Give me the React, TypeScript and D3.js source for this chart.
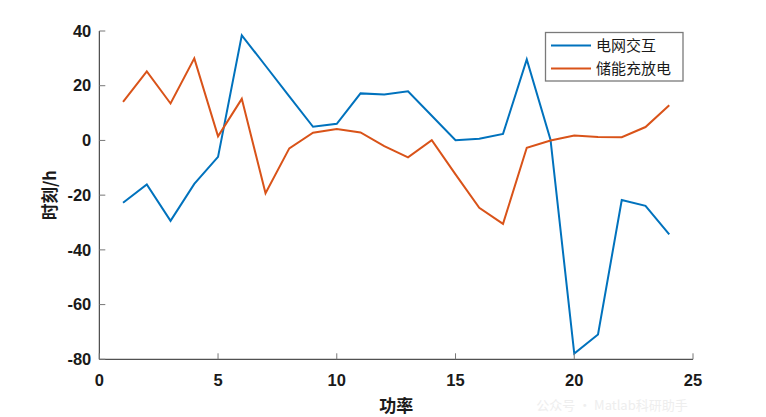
import React from "react";
import * as d3 from "d3";

const hours = [1, 2, 3, 4, 5, 6, 7, 8, 9, 10, 11, 12, 13, 14, 15, 16, 17, 18, 19, 20, 21, 22, 23, 24];
const gridExchange = [-22.8, -16.1, -29.4, -15.9, -6.0, 38.4, 27.3, 16.1, 5.0, 6.1, 17.2, 16.8, 18.0, 9.0, 0.1, 0.6, 2.4, 29.6, 0.3, -77.9, -70.9, -21.8, -23.9, -34.3];
const storage = [14.1, 25.2, 13.5, 30.0, 1.5, 15.2, -19.3, -2.9, 2.8, 4.2, 2.9, -2.1, -6.2, 0.1, -12.4, -24.6, -30.5, -2.7, 0.0, 1.8, 1.3, 1.2, 4.9, 12.9];
const seriesNames = ["电网交互", "储能充放电"];
const seriesColors = ["#0072BD", "#D95319"];
const xTicks = [0, 5, 10, 15, 20, 25];
const yTicks = [40, 20, 0, -20, -40, -60, -80];
const xLabel = "功率";
const yLabel = "时刻/h";
const watermark = "公众号 · Matlab科研助手";

export default function App() {
  const W = 766, H = 417;
  const left = 99.3, right = 693, top = 31, bottom = 359.3;
  const x = d3.scaleLinear().domain([0, 25]).range([left, right]);
  const y = d3.scaleLinear().domain([-80, 40]).range([bottom, top]);
  const line = d3.line<[number, number]>().x(d => x(d[0])).y(d => y(d[1]));
  const data = [gridExchange, storage];
  const tickFont = "'Liberation Sans', Arial, sans-serif";
  const cjk = "'Noto Sans CJK SC', sans-serif";
  const axisColor = "#262626";
  const tickColor = "#777";

  return (
    <svg width={W} height={H} style={{ position: "absolute", left: 0, top: 0, background: "#fff" }}>
      <rect x={0} y={0} width={W} height={H} fill="#fff" />
      {/* watermark */}
      <text x={612} y={410} textAnchor="middle" fontFamily={cjk} fontSize={13} fill="#eeeeee">{watermark}</text>
      {/* series */}
      {data.map((vals, i) => (
        <path key={i} d={line(hours.map((h, j) => [h, vals[j]] as [number, number])) || ""}
          fill="none" stroke={seriesColors[i]} strokeWidth={2} strokeLinejoin="miter" />
      ))}
      {/* axes */}
      <line x1={left} x2={right} y1={bottom} y2={bottom} stroke={axisColor} strokeWidth={1} />
      <line x1={left} x2={left} y1={top} y2={bottom} stroke={axisColor} strokeWidth={1} />
      {xTicks.map(t => (
        <g key={"x" + t}>
          <line x1={x(t)} x2={x(t)} y1={bottom} y2={bottom - 6} stroke={tickColor} strokeWidth={1} />
          <text x={x(t)} y={bottom + 27} textAnchor="middle" fontFamily={tickFont} fontWeight="bold" fontSize={16.5} fill="#1a1a1a">{t}</text>
        </g>
      ))}
      {yTicks.map(t => (
        <g key={"y" + t}>
          <line x1={left} x2={left + 6} y1={y(t)} y2={y(t)} stroke={tickColor} strokeWidth={1} />
          <text x={left - 8} y={y(t)} dy="0.35em" textAnchor="end" fontFamily={tickFont} fontWeight="bold" fontSize={16.5} fill="#1a1a1a">{t}</text>
        </g>
      ))}
      <text x={(left + right) / 2} y={412} textAnchor="middle" fontFamily={cjk} fontWeight="bold" fontSize={17} fill="#1a1a1a">{xLabel}</text>
      <text transform={`translate(56, ${(top + bottom) / 2}) rotate(-90)`} textAnchor="middle" fontFamily={cjk} fontWeight="bold" fontSize={16.5} fill="#1a1a1a">{yLabel}</text>
      {/* legend */}
      <rect x={545.5} y={32.5} width={137.5} height={48.5} fill="#fff" stroke="#7a7a7a" strokeWidth={1.3} />
      {seriesNames.map((n, i) => (
        <g key={n}>
          <line x1={551} x2={591} y1={45.5 + i * 23} y2={45.5 + i * 23} stroke={seriesColors[i]} strokeWidth={2} />
          <text x={596} y={45.5 + i * 23} dy="0.36em" fontFamily={cjk} fontSize={15} fill="#1a1a1a">{n}</text>
        </g>
      ))}
    </svg>
  );
}
